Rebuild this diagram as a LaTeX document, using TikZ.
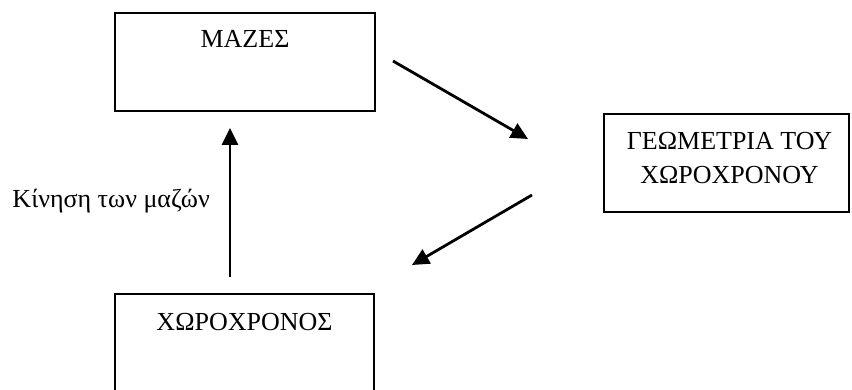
\documentclass[tikz,border=0pt]{standalone}
\usepackage{fontspec}
\setmainfont{Liberation Serif}
\usetikzlibrary{arrows.meta,positioning}
\tikzset{
    kouti/.style={draw=black, line width=2pt, minimum width=#1, minimum height=98pt, inner sep=0pt, anchor=north west},
    titlos/.style={inner sep=0pt, align=center, font=\fontsize{26}{34}\selectfont},
    velos/.style={draw=black, line width=2.8pt, -{Triangle[length=17pt,width=16pt]}}
}
\begin{document}
\begin{tikzpicture}[x=1pt,y=1pt]
    \clip (0,0) rectangle (852,389);
    %% ta tria koutia
    \node[kouti=260pt] (mazes) at (114,376.5) {};
    \node[kouti=245pt] (geometria) at (603,276) {};
    \node[kouti=259pt] (xoroxronos) at (114,96) {};
    
    \node[titlos, anchor=base] (mazesText) at ([yshift=-35.5pt]mazes.north) {ΜΑΖΕΣ};
    \node[titlos, anchor=north] (geometriaText) at ([xshift=3pt,yshift=-19pt]geometria.north) {ΓΕΩΜΕΤΡΙΑ ΤΟΥ\\ΧΩΡΟΧΡΟΝΟΥ};
    \node[titlos, anchor=base] (xoroxronosText) at ([yshift=-37pt]xoroxronos.north) {ΧΩΡΟΧΡΟΝΟΣ};
    
    % akra ton velon
    \coordinate (mazesOut) at (393,328);
    \coordinate (geometriaIn) at (528,250);
    \coordinate (geometriaOut) at (532,194);
    \coordinate (xoroxronosIn) at (412,124);
    \coordinate (xoroxronosOut) at (230,112);
    \coordinate (mazesIn) at (230,261);
    
    \foreach \s/\e in 
    {mazesOut/geometriaIn,
        geometriaOut/xoroxronosIn,
        xoroxronosOut/mazesIn}
    {
        \draw[velos] (\s) -- (\e);
    };
    
    \node[titlos, anchor=base east] (kinisi) at (210,182) {Κίνηση των μαζών};
\end{tikzpicture}
\end{document}
